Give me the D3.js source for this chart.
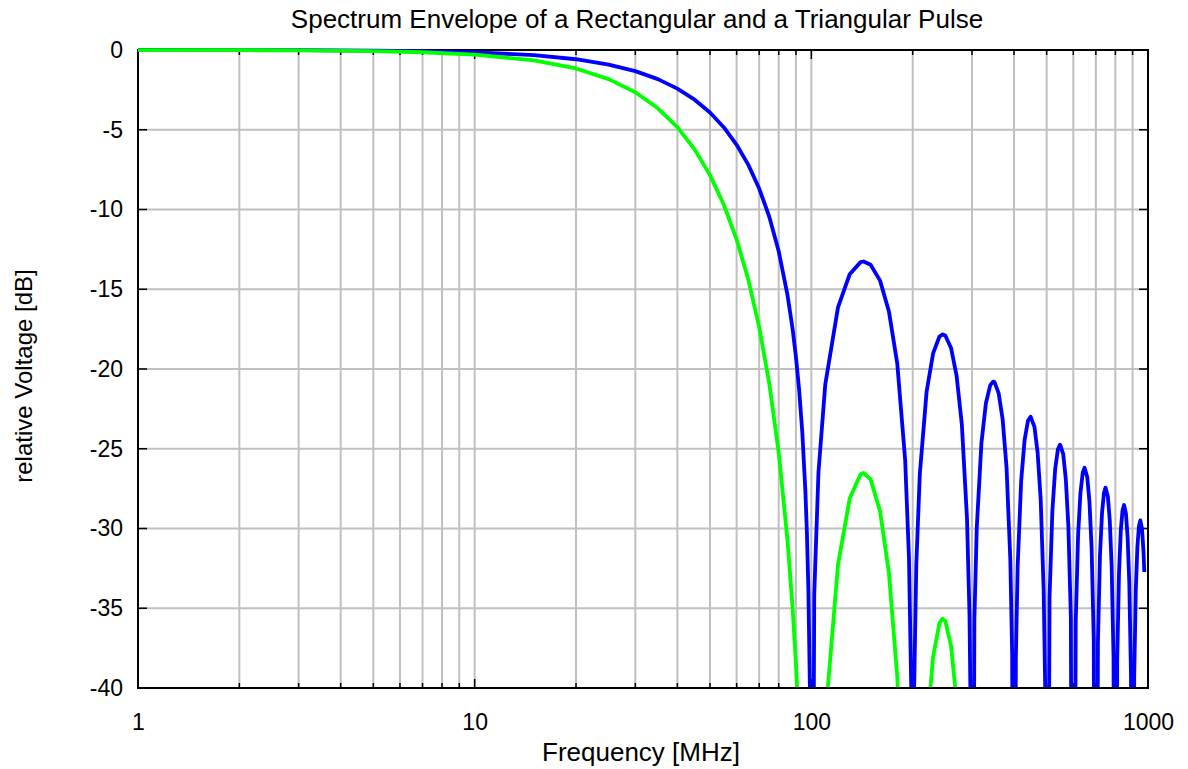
<!DOCTYPE html>
<html>
<head>
<meta charset="utf-8">
<script src="https://cdn.jsdelivr.net/npm/d3@7"></script>
<style>
  html, body { margin: 0; padding: 0; background: #fff; }
  svg text { font-family: "Liberation Sans", Arial, Helvetica, sans-serif; fill: #000; }
</style>
</head>
<body>
<svg id="chart" width="1188" height="769"></svg>
<script>
// Rectangular pulse spectrum envelope, frequency in MHz, level in dB
const freqRect = [
  1, 2, 3, 5, 7, 10, 15, 20, 25, 30, 35, 40, 45, 50, 55, 60, 65, 70, 75, 80,
  85, 88, 90, 92, 94, 96, 97, 98, 99, 100,
  102, 105, 110, 120, 130, 140, 143, 150, 160, 170, 180, 190, 195, 198, 200,
  202, 205, 210, 220, 230, 240, 245, 250, 260, 270, 280, 290, 295, 298, 300,
  305, 310, 320, 330, 340, 347, 350, 360, 370, 380, 390, 395, 400,
  405, 410, 420, 430, 440, 448, 460, 470, 480, 490, 495, 500,
  510, 520, 530, 540, 548, 560, 570, 580, 590, 600,
  610, 620, 630, 640, 648, 660, 670, 680, 690, 700,
  710, 720, 730, 740, 748, 760, 770, 780, 790, 800,
  810, 820, 830, 840, 849, 860, 870, 880, 890, 900,
  910, 920, 930, 940, 949, 960, 970, 975
];
const dbRect = [
  -0.001, -0.006, -0.013, -0.036, -0.070, -0.143, -0.324, -0.579, -0.912, -1.326,
  -1.827, -2.420, -3.115, -3.922, -4.858, -5.942, -7.204, -8.686, -10.454, -12.62,
  -15.39, -17.51, -19.23, -21.31, -23.95, -27.63, -30.21, -33.81, -39.91, -80,
  -34.16, -26.48, -20.97, -16.14, -14.06, -13.30, -13.26, -13.46, -14.46, -16.39, -19.66, -25.72, -31.85, -39.92, -80,
  -40.09, -32.29, -26.59, -21.41, -19.02, -17.98, -17.83, -17.90, -18.68, -20.41, -23.50, -29.39, -35.45, -43.47, -80,
  -35.74, -29.97, -24.66, -22.15, -21.01, -20.79, -20.82, -21.51, -23.15, -26.15, -31.96, -37.99, -80,
  -38.20, -32.40, -27.02, -24.45, -23.25, -22.99, -23.63, -25.23, -28.18, -33.95, -39.95, -80,
  -34.29, -28.88, -26.27, -25.03, -24.74, -25.34, -26.90, -29.83, -35.56, -80,
  -35.85, -30.41, -27.77, -26.50, -26.19, -26.77, -28.31, -31.21, -36.92, -80,
  -37.17, -31.71, -29.05, -27.76, -27.44, -28.00, -29.51, -32.40, -38.10, -80,
  -38.31, -32.83, -30.17, -28.87, -28.53, -29.07, -30.57, -33.45, -39.13, -80,
  -39.32, -33.83, -31.15, -29.84, -29.49, -30.02, -31.52, -32.73
];

// Triangular pulse spectrum envelope
const freqTri = [
  1, 2, 3, 5, 7, 10, 15, 20, 25, 30, 35, 40, 45, 50, 55, 60, 65, 70, 75, 80,
  85, 88, 90, 92, 94, 96, 98, 100,
  105, 110, 120, 130, 140, 143, 150, 160, 170, 180, 190, 195, 200,
  205, 210, 220, 230, 240, 245, 250, 260, 270, 280, 290, 300
];
const dbTri = [
  -0.003, -0.011, -0.026, -0.072, -0.140, -0.287, -0.648, -1.158, -1.824, -2.652,
  -3.654, -4.840, -6.230, -7.844, -9.716, -11.884, -14.408, -17.372, -20.908, -25.24,
  -30.78, -35.02, -38.46, -42.62, -47.90, -55.26, -67.62, -80,
  -52.96, -41.94, -32.28, -28.12, -26.60, -26.52, -26.92, -28.92, -32.78, -39.32, -51.44, -63.70, -80,
  -64.58, -53.18, -42.82, -38.04, -35.96, -35.66, -35.80, -37.36, -40.82, -47.00, -58.78, -80
];

// Axis ticks and labels
const xMajor = [1, 10, 100, 1000];
const xMinor = [2, 3, 4, 5, 6, 7, 8, 9, 20, 30, 40, 50, 60, 70, 80, 90, 200, 300, 400, 500, 600, 700, 800, 900];
const yTicks = [0, -5, -10, -15, -20, -25, -30, -35, -40];

const titleText = "Spectrum Envelope of a Rectangular and a Triangular Pulse";
const xTitle = "Frequency [MHz]";
const yTitle = "relative Voltage [dB]";

const L = 138, R = 1148, T = 50, B = 688;
const svg = d3.select("#chart");
svg.append("rect").attr("width", 1188).attr("height", 769).attr("fill", "#fff");

const x = d3.scaleLog().domain([1, 1000]).range([L, R]);
const y = d3.scaleLinear().domain([-40, 0]).range([B, T]);

// grid
const grid = svg.append("g").attr("stroke", "#c0c0c0").attr("stroke-width", 2);
grid.selectAll("line.gx").data(xMinor.concat([10, 100])).join("line")
  .attr("x1", d => x(d)).attr("x2", d => x(d)).attr("y1", T).attr("y2", B);
grid.selectAll("line.gy").data(yTicks.filter(d => d > -40 && d < 0)).join("line")
  .attr("class", "gy")
  .attr("x1", L).attr("x2", R).attr("y1", d => y(d)).attr("y2", d => y(d));

// frame
svg.append("rect").attr("x", L).attr("y", T).attr("width", R - L).attr("height", B - T)
  .attr("fill", "none").attr("stroke", "#000").attr("stroke-width", 2);

// inward tick marks
const tk = svg.append("g").attr("stroke", "#000").attr("stroke-width", 1.5);
const xTickData = xMinor.map(v => ({ v, len: 5 })).concat([10, 100].map(v => ({ v, len: 9 })));
xTickData.forEach(t => {
  tk.append("line").attr("x1", x(t.v)).attr("x2", x(t.v)).attr("y1", B).attr("y2", B - t.len);
  tk.append("line").attr("x1", x(t.v)).attr("x2", x(t.v)).attr("y1", T).attr("y2", T + t.len);
});
yTicks.filter(d => d > -40 && d < 0).forEach(v => {
  tk.append("line").attr("x1", L).attr("x2", L + 9).attr("y1", y(v)).attr("y2", y(v));
  tk.append("line").attr("x1", R).attr("x2", R - 9).attr("y1", y(v)).attr("y2", y(v));
});

// tick labels via d3 axes (plain hyphen for negatives)
const plain = d => String(d);
const xAxis = d3.axisBottom(x).tickValues(xMajor).tickFormat(plain).tickSize(0).tickPadding(26);
const gx = svg.append("g").attr("transform", `translate(0,${B})`).call(xAxis);
gx.select(".domain").remove();
gx.selectAll("text").style("font-size", "23px").attr("fill", "#000");

const yAxis = d3.axisLeft(y).tickValues(yTicks).tickFormat(plain).tickSize(0).tickPadding(15);
const gy = svg.append("g").attr("transform", `translate(${L},0)`).call(yAxis);
gy.select(".domain").remove();
gy.selectAll("text").style("font-size", "23px").attr("fill", "#000");

// curves
svg.append("clipPath").attr("id", "plotclip").append("rect")
  .attr("x", L - 2).attr("y", T - 6).attr("width", R - L + 4).attr("height", B - T + 6);

const line = d3.line().x(d => x(d[0])).y(d => y(d[1]));
const curves = svg.append("g").attr("clip-path", "url(#plotclip)");
curves.append("path").datum(d3.zip(freqRect, dbRect)).attr("d", line)
  .attr("fill", "none").attr("stroke", "#0000ff").attr("stroke-width", 3.8).attr("stroke-linejoin", "round");
curves.append("path").datum(d3.zip(freqTri, dbTri)).attr("d", line)
  .attr("fill", "none").attr("stroke", "#00ff00").attr("stroke-width", 3.8).attr("stroke-linejoin", "round");

// bottom edge over the curves
svg.append("line").attr("x1", L).attr("x2", R).attr("y1", B).attr("y2", B)
  .attr("stroke", "#000").attr("stroke-width", 2);

// titles
svg.append("text").attr("x", 637).attr("y", 28).attr("text-anchor", "middle")
  .style("font-size", "26px").text(titleText);
svg.append("text").attr("x", 641).attr("y", 761).attr("text-anchor", "middle")
  .style("font-size", "26px").text(xTitle);
svg.append("text").attr("transform", "translate(32,376) rotate(-90)").attr("text-anchor", "middle")
  .style("font-size", "24px").text(yTitle);
</script>
</body>
</html>
